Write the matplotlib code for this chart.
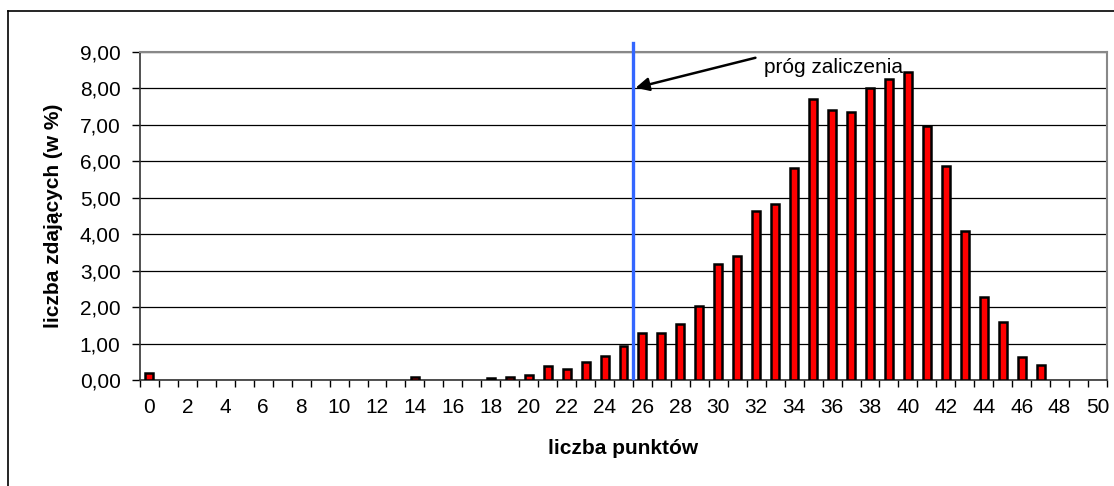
import numpy as np
import matplotlib.pyplot as plt
from matplotlib.ticker import FuncFormatter

plt.rcParams['font.family'] = ['Liberation Sans', 'DejaVu Sans']

punkty = list(range(0, 51))
procent = [0.18, 0, 0, 0, 0, 0, 0, 0, 0, 0,
           0, 0, 0, 0, 0.09, 0, 0, 0, 0.06, 0.09,
           0.15, 0.39, 0.31, 0.50, 0.67, 0.92, 1.28, 1.28, 1.54, 2.03,
           3.18, 3.39, 4.64, 4.84, 5.82, 7.72, 7.40, 7.36, 8.01, 8.25,
           8.46, 6.98, 5.87, 4.10, 2.27, 1.58, 0.63, 0.42, 0, 0,
           0]
prog = 25.5

fig = plt.figure(figsize=(11.14, 4.86), dpi=100)
ax = fig.add_axes([140/1114, 1-380/486, (1107-140)/1114, (380-52)/486])

# zero bars are not drawn in the original
xs = [p for p, v in zip(punkty, procent) if v > 0]
ys = [v for v in procent if v > 0]
ax.bar(xs, ys, width=0.42, color='#ff0000', edgecolor='black', linewidth=1.8, zorder=3)

ax.set_xlim(-0.5, 50.5)
ax.set_ylim(0, 9)
ax.set_yticks(np.arange(0, 10, 1))
ax.yaxis.set_major_formatter(FuncFormatter(lambda v, p: f'{v:.2f}'.replace('.', ',')))
ax.set_xticks(np.arange(0, 51, 2))
ax.set_xticks(np.arange(-0.5, 51, 1), minor=True)
ax.tick_params(axis='x', which='major', length=0, pad=13, labelsize=15)
ax.tick_params(axis='x', which='minor', length=5, width=1, color='black')
ax.tick_params(axis='y', length=6, width=1, pad=8, labelsize=15)
ax.grid(axis='y', color='black', linewidth=0.9, zorder=0)

for s in ['top', 'right']:
    ax.spines[s].set_color('#888888')
    ax.spines[s].set_linewidth(1.5)
for s in ['left', 'bottom']:
    ax.spines[s].set_color('#333333')
    ax.spines[s].set_linewidth(1.2)

ax.plot([prog, prog], [0.05, 9.25], color='#3366ff', linewidth=2.4, clip_on=False, zorder=4)
ax.annotate('', xy=(prog, 8.0), xytext=(32.1, 8.86),
            arrowprops=dict(arrowstyle='-|>', color='black', lw=1.8, mutation_scale=20),
            annotation_clip=False, zorder=5)
ax.text(32.4, 8.58, 'próg zaliczenia', fontsize=15, va='center', ha='left', zorder=6)

ax.set_xlabel('liczba punktów', fontsize=15, fontweight='bold', labelpad=16)
ax.set_ylabel('liczba zdających (w %)', fontsize=15, fontweight='bold', labelpad=12)

fig.add_artist(plt.Line2D([8/1114, 1], [1-11/486, 1-11/486], color='black', linewidth=1.2))
fig.add_artist(plt.Line2D([8/1114, 8/1114], [0, 1-11/486], color='black', linewidth=1.2))

fig.savefig('out.png', dpi=100)
